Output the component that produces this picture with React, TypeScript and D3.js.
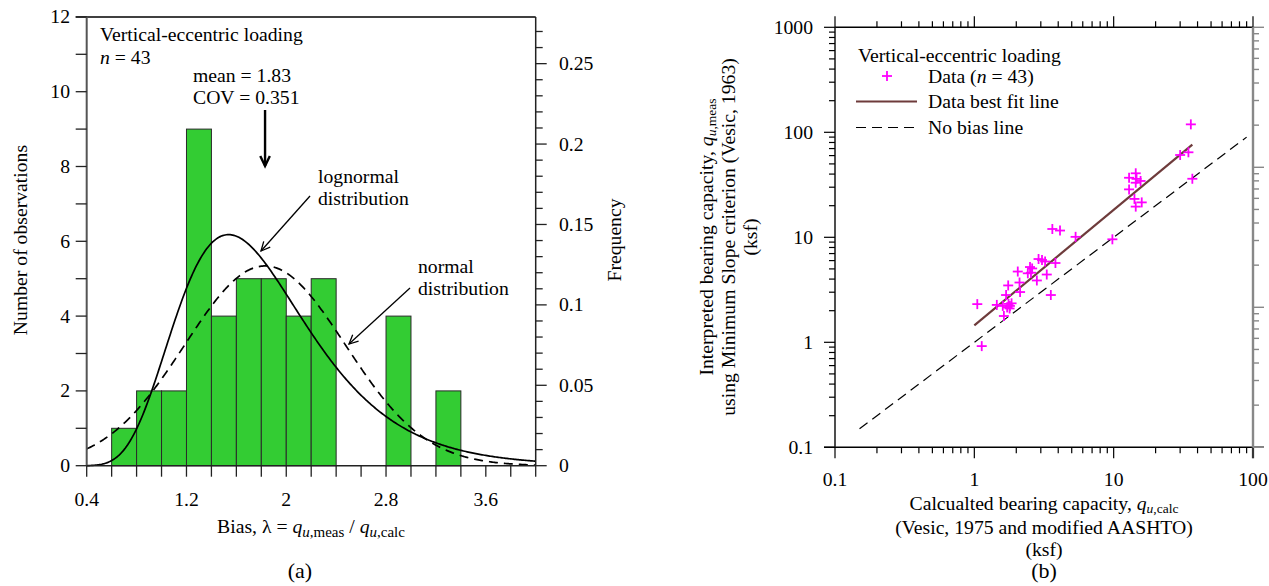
import React from "react";
import * as d3 from "d3";

// ---------- (a) histogram of bias ----------
const binStarts = [0.6, 0.8, 1.0, 1.2, 1.4, 1.6, 1.8, 2.0, 2.2, 2.8, 3.2];
const binCounts = [1, 2, 2, 9, 4, 5, 5, 4, 5, 4, 2];
const BIN_WIDTH = 0.2;
const nObs = 43;
const meanBias = 1.83;
const covBias = 0.351;
const biasTickLabels = [0.4, 1.2, 2, 2.8, 3.6];
const countTickLabels = [0, 2, 4, 6, 8, 10, 12];
const freqTickLabels = [0, 0.05, 0.1, 0.15, 0.2, 0.25];

// ---------- (b) measured vs calculated capacity (ksf) ----------
const calcQ = [
  1.05, 1.13, 1.45, 1.6, 1.63, 1.69, 1.75, 1.76, 1.79, 1.8, 1.85, 2.05, 2.11,
  2.13, 2.42, 2.51, 2.6, 2.81, 2.89, 3.06, 3.22, 3.31, 3.54, 3.63, 4.12, 3.82,
  5.33, 9.79, 12.9, 14.4, 14.4, 15.6, 12.9, 14.1, 15.9, 14.4, 30.0, 34.4, 35.8,
  36.7, 2.55, 1.72, 14.6,
];
const measQ = [
  2.31, 0.92, 2.27, 2.22, 1.78, 2.82, 3.48, 2.32, 2.1, 2.22, 2.35, 4.72, 3.71,
  3.01, 4.54, 5.21, 5.05, 3.88, 6.21, 6.08, 5.88, 4.42, 2.82, 12.0, 11.6, 5.69,
  10.1, 9.57, 36.9, 40.7, 33.1, 34.4, 28.6, 23.2, 21.5, 19.6, 60.8, 64.5, 119,
  36.1, 4.6, 2.15, 36.0,
];
const fitCoef = 1.45;
const fitExp = 1.1;
const fitRange = [1.0, 36.7];
const noBiasRange = [0.15, 90];
const logTickLabels = ["0.1", "1", "10", "100", "1000"];

const FONT = "'Liberation Serif', 'Times New Roman', Times, serif";
const FS = 19.7;

function normalPdf(x: number, m: number, s: number) {
  const z = (x - m) / s;
  return Math.exp(-0.5 * z * z) / (s * Math.sqrt(2 * Math.PI));
}
function lognormalPdf(x: number, mu: number, s: number) {
  const z = (Math.log(x) - mu) / s;
  return Math.exp(-0.5 * z * z) / (x * s * Math.sqrt(2 * Math.PI));
}

function logTicks(lo: number, hi: number) {
  const out: { v: number; major: boolean }[] = [];
  for (let e = Math.round(Math.log10(lo)); e < Math.round(Math.log10(hi)); e++) {
    for (let k = 1; k < 10; k++) out.push({ v: k * Math.pow(10, e), major: k === 1 });
  }
  out.push({ v: hi, major: true });
  return out;
}

function Arrow({ x1, y1, x2, y2, w = 1.3, head = 10 }: any) {
  const ang = Math.atan2(y2 - y1, x2 - x1);
  const a1 = ang + Math.PI - 0.45;
  const a2 = ang + Math.PI + 0.45;
  const p = `M${x2 + head * Math.cos(a1)},${y2 + head * Math.sin(a1)} L${x2},${y2} L${
    x2 + head * Math.cos(a2)
  },${y2 + head * Math.sin(a2)}`;
  return (
    <g stroke="#000" strokeWidth={w} fill="none">
      <line x1={x1} y1={y1} x2={x2} y2={y2} />
      <path d={p} strokeLinejoin="miter" />
    </g>
  );
}

function PanelA() {
  const x = d3.scaleLinear().domain([0.4, 4.0]).range([86.7, 535.7]);
  const y = d3.scaleLinear().domain([0, 12]).range([465.7, 16.9]);
  const yF = d3.scaleLinear().domain([0, 12 / nObs]).range([465.7, 16.9]);
  const scale = nObs * BIN_WIDTH;

  const sd = meanBias * covBias;
  const sLn = Math.sqrt(Math.log(1 + covBias * covBias));
  const muLn = Math.log(meanBias) - (sLn * sLn) / 2;
  const grid = d3.range(0, 361).map((i) => 0.4 + i * 0.01);
  const line = d3
    .line<number[]>()
    .x((d) => x(d[0]))
    .y((d) => y(d[1]))
    .curve(d3.curveLinear);
  const normalPath = line(grid.map((v) => [v, normalPdf(v, meanBias, sd) * scale]));
  const lognormalPath = line(grid.map((v) => [v, lognormalPdf(v, muLn, sLn) * scale]));

  const xTicks = d3.range(0, 19).map((i) => +(0.4 + i * 0.2).toFixed(2));
  const yTicks = d3.range(0, 13);
  const fTicks = d3.range(0, 28).map((i) => i / 100);

  const [L, R] = x.range();
  const [B, T] = y.range();

  return (
    <g>
      {binStarts.map((lo, i) => (
        <rect
          key={i}
          x={x(lo)}
          y={y(binCounts[i])}
          width={x(lo + BIN_WIDTH) - x(lo)}
          height={y(0) - y(binCounts[i])}
          fill="#33cc33"
          stroke="#2a2a2a"
          strokeWidth={1}
        />
      ))}
      <path d={lognormalPath!} fill="none" stroke="#000" strokeWidth={1.7} />
      <path d={normalPath!} fill="none" stroke="#000" strokeWidth={1.7} strokeDasharray="9,6" />

      {/* frame */}
      <line x1={L - 11} y1={T} x2={R} y2={T} stroke="#000" strokeWidth={1.5} />
      <line x1={L} y1={T} x2={L} y2={B} stroke="#555" strokeWidth={2} />
      <line x1={R} y1={T} x2={R} y2={B} stroke="#222" strokeWidth={1.5} />
      <line x1={L} y1={B} x2={R} y2={B} stroke="#222" strokeWidth={1.5} />

      {/* bottom ticks */}
      {xTicks.map((v) => (
        <line key={v} x1={x(v)} x2={x(v)} y1={B} y2={B + 11} stroke="#222" strokeWidth={1.3} />
      ))}
      {biasTickLabels.map((v) => (
        <text key={v} x={x(v)} y={506} textAnchor="middle" fontSize={FS} fontFamily={FONT}>
          {String(v)}
        </text>
      ))}
      {/* left ticks */}
      {yTicks.map((v) => (
        <line key={v} x1={L - 11} x2={L} y1={y(v)} y2={y(v)} stroke="#222" strokeWidth={1.3} />
      ))}
      {countTickLabels.map((v) => (
        <text key={v} x={70} y={y(v) + 6.5} textAnchor="end" fontSize={FS} fontFamily={FONT}>
          {v}
        </text>
      ))}
      {/* right frequency ticks */}
      {fTicks.map((v) => {
        const major = Math.abs(v * 20 - Math.round(v * 20)) < 1e-9;
        return (
          <line
            key={v}
            x1={R}
            x2={R + (major ? 11 : 7)}
            y1={yF(v)}
            y2={yF(v)}
            stroke="#222"
            strokeWidth={1.3}
          />
        );
      })}
      {freqTickLabels.map((v) => (
        <text key={v} x={559} y={yF(v) + 6.5} textAnchor="start" fontSize={FS} fontFamily={FONT}>
          {String(v)}
        </text>
      ))}

      {/* annotations */}
      <text x={100} y={41} fontSize={FS} fontFamily={FONT}>
        Vertical-eccentric loading
      </text>
      <text x={100} y={63.5} fontSize={FS} fontFamily={FONT}>
        <tspan fontStyle="italic">n</tspan> = 43
      </text>
      <text x={193} y={82} fontSize={FS} fontFamily={FONT}>
        mean = {meanBias}
      </text>
      <text x={193} y={104} fontSize={FS} fontFamily={FONT}>
        COV = {covBias}
      </text>
      <Arrow x1={x(meanBias)} y1={110} x2={x(meanBias)} y2={166} w={2.4} head={11} />

      <text x={318} y={183} fontSize={FS} fontFamily={FONT}>
        lognormal
      </text>
      <text x={318} y={205} fontSize={FS} fontFamily={FONT}>
        distribution
      </text>
      <Arrow x1={310} y1={196} x2={261} y2={251} />

      <text x={418} y={273} fontSize={FS} fontFamily={FONT}>
        normal
      </text>
      <text x={418} y={295} fontSize={FS} fontFamily={FONT}>
        distribution
      </text>
      <Arrow x1={410} y1={288} x2={349} y2={344} />

      {/* axis titles */}
      <text x={311} y={533} textAnchor="middle" fontSize={FS} fontFamily={FONT}>
        Bias, λ = <tspan fontStyle="italic">q</tspan>
        <tspan dy={4} fontSize={15}>
          <tspan fontStyle="italic">u</tspan>,meas
        </tspan>
        <tspan dy={-4}> / </tspan>
        <tspan fontStyle="italic">q</tspan>
        <tspan dy={4} fontSize={15}>
          <tspan fontStyle="italic">u</tspan>,calc
        </tspan>
      </text>
      <text
        transform="translate(27,240) rotate(-90)"
        textAnchor="middle"
        fontSize={FS}
        fontFamily={FONT}
      >
        Number of observations
      </text>
      <text
        transform="translate(621,240) rotate(-90)"
        textAnchor="middle"
        fontSize={FS}
        fontFamily={FONT}
      >
        Frequency
      </text>
      <text x={300} y={578} textAnchor="middle" fontSize={22} fontFamily={FONT}>
        (a)
      </text>
    </g>
  );
}

function PanelB() {
  const x = d3.scaleLog().domain([0.1, 100]).range([835, 1253]);
  const y = d3.scaleLog().domain([0.1, 1000]).range([447.3, 27.3]);
  const yR = d3.scaleLog().domain([0.1, 100]).range([447.3, 27.3]);
  const [L, R] = x.range();
  const [B, T] = y.range();

  const fitLine = d3
    .line<number>()
    .x((v) => x(v))
    .y((v) => y(fitCoef * Math.pow(v, fitExp)));
  const fitPts = [fitRange[0], fitRange[1]];

  const xT = logTicks(0.1, 100);
  const yT = logTicks(0.1, 1000);
  const rT = logTicks(0.1, 100);
  const cross = 5;

  return (
    <g>
      {/* no-bias line */}
      <line
        x1={x(noBiasRange[0])}
        y1={y(noBiasRange[0])}
        x2={x(noBiasRange[1])}
        y2={y(noBiasRange[1])}
        stroke="#000"
        strokeWidth={1.2}
        strokeDasharray="10,6"
      />
      <path d={fitLine(fitPts)!} stroke="#6e3b3b" strokeWidth={2.2} fill="none" />
      {calcQ.map((c, i) => (
        <g key={i} stroke="#ff00ff" strokeWidth={1.8}>
          <line x1={x(c) - cross} x2={x(c) + cross} y1={y(measQ[i])} y2={y(measQ[i])} />
          <line x1={x(c)} x2={x(c)} y1={y(measQ[i]) - cross} y2={y(measQ[i]) + cross} />
        </g>
      ))}

      {/* frame */}
      <line x1={L} y1={T} x2={R} y2={T} stroke="#000" strokeWidth={1.4} />
      <line x1={L - 11} y1={B} x2={R + 11} y2={B} stroke="#000" strokeWidth={1.4} />
      <line x1={L} y1={T} x2={L} y2={B} stroke="#222" strokeWidth={1.6} />
      <line x1={R} y1={T - 1} x2={R} y2={B + 11} stroke="#888" strokeWidth={2.4} />

      {xT.map((t, i) => (
        <g key={"x" + i} stroke="#000" strokeWidth={1.2}>
          <line x1={x(t.v)} x2={x(t.v)} y1={B} y2={B + (t.major ? 11 : 6)} />
          <line x1={x(t.v)} x2={x(t.v)} y1={T} y2={T - (t.major ? 11 : 6)} />
        </g>
      ))}
      {yT.map((t, i) => (
        <line
          key={"y" + i}
          x1={L - (t.major ? 11 : 6)}
          x2={L}
          y1={y(t.v)}
          y2={y(t.v)}
          stroke="#000"
          strokeWidth={1.2}
        />
      ))}
      {rT.map((t, i) => (
        <line
          key={"r" + i}
          x1={R}
          x2={R + (t.major ? 11 : 6)}
          y1={yR(t.v)}
          y2={yR(t.v)}
          stroke="#888"
          strokeWidth={1.4}
        />
      ))}
      {logTickLabels.slice(0, 4).map((s) => (
        <text key={"xl" + s} x={x(+s)} y={486} textAnchor="middle" fontSize={FS} fontFamily={FONT}>
          {s}
        </text>
      ))}
      {logTickLabels.map((s) => (
        <text
          key={"yl" + s}
          x={813}
          y={y(+s) + 6.5}
          textAnchor="end"
          fontSize={FS}
          fontFamily={FONT}
        >
          {s}
        </text>
      ))}

      {/* legend */}
      <text x={858} y={62} fontSize={FS} fontFamily={FONT}>
        Vertical-eccentric loading
      </text>
      <g stroke="#ff00ff" strokeWidth={1.8}>
        <line x1={887 - cross} x2={887 + cross} y1={76} y2={76} />
        <line x1={887} x2={887} y1={76 - cross} y2={76 + cross} />
      </g>
      <text x={928} y={83} fontSize={FS} fontFamily={FONT}>
        Data (<tspan fontStyle="italic">n</tspan> = 43)
      </text>
      <line x1={856} x2={917} y1={101.5} y2={101.5} stroke="#6e3b3b" strokeWidth={2.2} />
      <text x={928} y={108} fontSize={FS} fontFamily={FONT}>
        Data best fit line
      </text>
      <line
        x1={856}
        x2={917}
        y1={127.5}
        y2={127.5}
        stroke="#000"
        strokeWidth={1.2}
        strokeDasharray="10,6"
      />
      <text x={928} y={134} fontSize={FS} fontFamily={FONT}>
        No bias line
      </text>

      {/* axis titles */}
      <text x={1044} y={510} textAnchor="middle" fontSize={FS} fontFamily={FONT}>
        Calcualted bearing capacity, <tspan fontStyle="italic">q</tspan>
        <tspan dy={2.5} fontSize={13.5}>
          <tspan fontStyle="italic">u</tspan>,calc
        </tspan>
      </text>
      <text x={1044} y={534} textAnchor="middle" fontSize={FS} fontFamily={FONT}>
        (Vesic, 1975 and modified AASHTO)
      </text>
      <text x={1044} y={556} textAnchor="middle" fontSize={FS} fontFamily={FONT}>
        (ksf)
      </text>
      <text x={1044} y={578} textAnchor="middle" fontSize={22} fontFamily={FONT}>
        (b)
      </text>

      <text
        transform="translate(713,237) rotate(-90)"
        textAnchor="middle"
        fontSize={FS}
        fontFamily={FONT}
      >
        Interpreted bearing capacity, <tspan fontStyle="italic">q</tspan>
        <tspan dy={2.5} fontSize={13.5}>
          <tspan fontStyle="italic">u</tspan>,meas
        </tspan>
      </text>
      <text
        transform="translate(735,237) rotate(-90)"
        textAnchor="middle"
        fontSize={FS}
        fontFamily={FONT}
      >
        using Minimum Slope criterion (Vesic, 1963)
      </text>
      <text
        transform="translate(757,237) rotate(-90)"
        textAnchor="middle"
        fontSize={FS}
        fontFamily={FONT}
      >
        (ksf)
      </text>
    </g>
  );
}

export default function App() {
  return (
    <svg
      width={1269}
      height={586}
      style={{ position: "absolute", left: 0, top: 0, background: "#fff" }}
      fontFamily={FONT}
    >
      <rect width={1269} height={586} fill="#fff" />
      <PanelA />
      <PanelB />
    </svg>
  );
}
